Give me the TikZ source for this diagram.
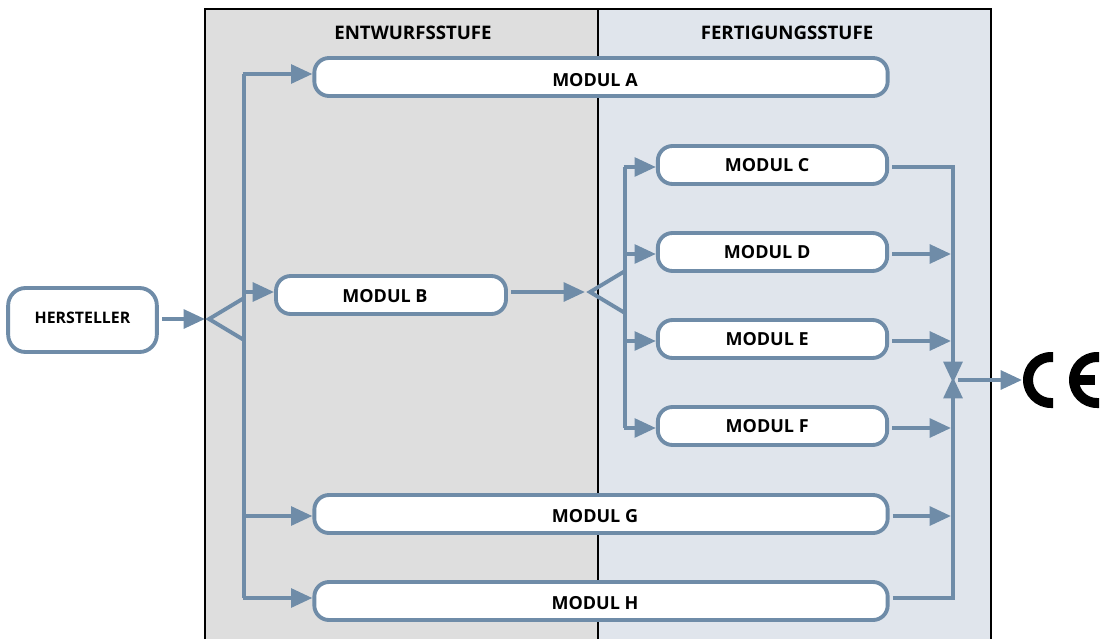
\documentclass[tikz,border=0pt]{standalone}
\usepackage{fontspec}
\setmainfont{Open Sans}
\usetikzlibrary{arrows.meta,calc}
\definecolor{linec}{HTML}{6F8CA8}
\definecolor{leftp}{HTML}{DEDEDE}
\definecolor{rightp}{HTML}{E0E5EC}
\tikzset{
 x=0.75pt,y=-0.75pt,
 modbox/.style={draw=linec,line width=2.9pt,fill=white,rounded corners=11pt,inner sep=0pt,minimum height=28.5pt,font=\bfseries\fontsize{13.5}{15}\selectfont,text=black,text height=11pt,text depth=0pt},
 head/.style={font=\bfseries\fontsize{14}{16}\selectfont,text=black,inner sep=0pt},
 conn/.style={draw=linec,line width=2.9pt},
 arr/.style={conn,-{Triangle[length=16pt,width=14pt]}},
 frame/.style={draw=black,line width=2.1pt},
}
\begin{document}
\begin{tikzpicture}
\useasboundingbox (0,0) rectangle (1105,639);
\fill[leftp] (205,9) rectangle (598,639);
\fill[rightp] (598,9) rectangle (991,639);
\draw[frame] (205,639) -- (205,9) -- (991,9) -- (991,639);
\draw[frame] (598,9) -- (598,639);
\node[head] (t1) at (413,33) {ENTWURFSSTUFE};
\node[head] (t2) at (787,33) {FERTIGUNGSSTUFE};
\node[modbox,minimum width=111.5pt,minimum height=48pt,rounded corners=13pt,font=\bfseries\fontsize{11.9}{13}\selectfont,text height=5.5pt] (her) at (82.5,320) {HERSTELLER};
\node[modbox,minimum width=430pt,text height=14pt] (A) at (601,77) {\kern-9pt MODUL A};
\node[modbox,minimum width=172.5pt] (B) at (391,295) {\kern-9pt MODUL B};
\node[modbox,minimum width=172pt,text height=9.5pt] (C) at (772.5,165) {\kern-8pt MODUL C};
\node[modbox,minimum width=172pt,text height=9.5pt] (D) at (772.5,252) {\kern-8pt MODUL D};
\node[modbox,minimum width=172pt,text height=9.5pt] (E) at (772.5,339) {\kern-8pt MODUL E};
\node[modbox,minimum width=172pt,text height=9.5pt] (F) at (772.5,426) {\kern-8pt MODUL F};
\node[modbox,minimum width=430pt,text height=12.5pt] (G) at (601,514) {\kern-9pt MODUL G};
\node[modbox,minimum width=430pt,text height=12.5pt] (H) at (601,601) {\kern-9pt MODUL H};
% left distribution
\coordinate (s0) at (205,319);
\coordinate (s1) at (209,319);
\coordinate (bt) at (244,74);
\coordinate (bb) at (244,598);
\draw[arr,shorten <=2.5pt] ($(her.east)+(0,-1)$) -- (s0);
\draw[conn,line join=miter] (244,298) -- (s1) -- (244,340);
\draw[conn] (bt) -- (bb);
\draw[arr] (242.5,74) -- ($(A.west)+(0,-3)$);
\draw[arr] (244,292) -- ($(B.west)+(0,-3)$);
\draw[arr] (244,516) -- ($(G.west)+(0,2)$);
\draw[arr] (242.5,598) -- ($(H.west)+(0,-3)$);
% middle distribution
\coordinate (s3) at (585,292);
\coordinate (s2) at (590,292);
\coordinate (mt) at (625,167);
\coordinate (mb) at (625,428);
\draw[arr,shorten <=2.5pt] ($(B.east)+(0,-3)$) -- (s3);
\draw[conn,line join=miter] (625,271) -- (s2) -- (625,313);
\draw[conn] (mt) -- (mb);
\draw[arr] (623.5,167) -- ($(C.west)+(0,2)$);
\draw[arr] (625,254) -- ($(D.west)+(0,2)$);
\draw[arr] (625,341) -- ($(E.west)+(0,2)$);
\draw[arr] (623.5,428) -- ($(F.west)+(0,2)$);
% right collection
\coordinate (jt) at (953,383);
\coordinate (jb) at (953,377);
\draw[arr,shorten <=2.5pt,line join=miter] ($(C.east)+(0,2)$) -- (953,167) -- (jt);
\draw[arr,shorten <=2.5pt,line join=miter] ($(H.east)+(0,-3)$) -- (953,598) -- (jb);
\draw[arr,shorten <=2.5pt] ($(D.east)+(0,2)$) -- (951,254);
\draw[arr,shorten <=2.5pt] ($(E.east)+(0,2)$) -- (951,341);
\draw[arr,shorten <=2.5pt] ($(F.east)+(0,2)$) -- (951,428);
\draw[arr,shorten <=2.5pt] ($(G.east)+(0,2)$) -- (951,516);
\coordinate (ce) at (1022,380);
\draw[arr] (958,380) -- (ce);
% CE mark
\fill[black] (1053,352) -- (1051,352) arc[start angle=90,end angle=270,radius=21pt] -- (1053,408) -- (1053,398) -- (1051,398) arc[start angle=270,end angle=90,radius=13.5pt] -- (1053,362) -- cycle;
\fill[black] (1099,352) -- (1097,352) arc[start angle=90,end angle=270,radius=21pt] -- (1099,408) -- (1099,398) -- (1097,398) arc[start angle=270,end angle=90,radius=13.5pt] -- (1099,362) -- cycle;
\fill[black] (1075,375) rectangle (1095,385);
\end{tikzpicture}
\end{document}
